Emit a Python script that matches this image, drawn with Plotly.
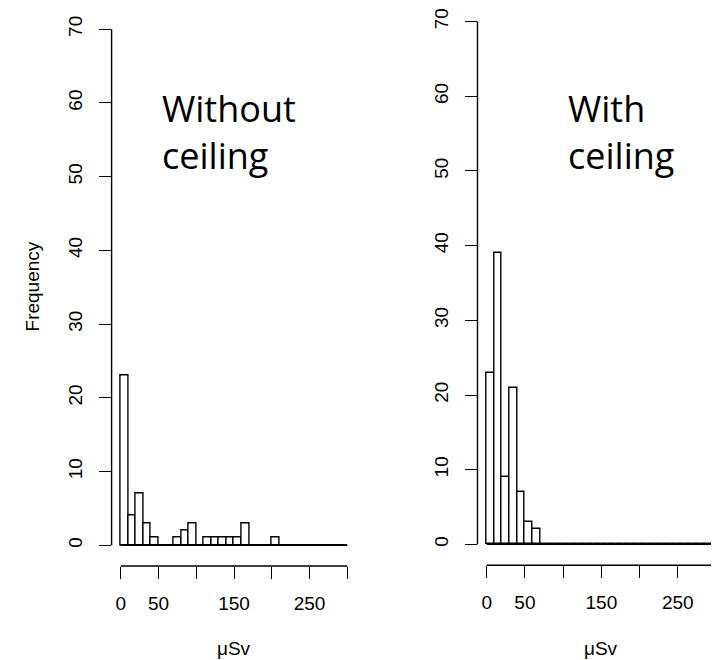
import plotly.graph_objects as go

# ---- data ----
bin_edges = list(range(0, 310, 10))  # 0..300, width 10
counts_without = [23, 4, 7, 3, 1, 0, 0, 1, 2, 3,
                  0, 1, 1, 1, 1, 1, 3, 0, 0, 0,
                  1, 0, 0, 0, 0, 0, 0, 0, 0, 0]
counts_with = [23, 39, 9, 21, 7, 3, 2, 0, 0, 0,
               0, 0, 0, 0, 0, 0, 0, 0, 0, 0,
               0, 0, 0, 0, 0, 0, 0, 0, 0, 0]
x_tickvals = [0, 50, 100, 150, 200, 250, 300]
x_ticktext = ["0", "50", "", "150", "", "250", ""]
y_tickvals = [0, 10, 20, 30, 40, 50, 60, 70]
y_ticktext = ["0", "10", "20", "30", "40", "50", "60", "70"]
panel_labels = ["Without<br>ceiling", "With<br>ceiling"]
x_title = "μSv"
y_title = "Frequency"

PAGE_W, PAGE_H = 719, 660
OFF = 8  # default body margin of the html page
W, H = PAGE_W - OFF, PAGE_H - OFF
FONT = "Liberation Sans, Arial, sans-serif"
LW = 1.4
TFS = 19

centers = [(a + b) / 2 for a, b in zip(bin_edges[:-1], bin_edges[1:])]
widths = [b - a for a, b in zip(bin_edges[:-1], bin_edges[1:])]

fig = go.Figure()
for i, counts in enumerate([counts_without, counts_with]):
    xa = "x" if i == 0 else "x2"
    ya = "y" if i == 0 else "y2"
    fig.add_trace(go.Bar(
        x=centers, y=counts, width=widths,
        marker=dict(color="white", line=dict(color="black", width=LW)),
        xaxis=xa, yaxis=ya, showlegend=False, hoverinfo="x+y",
    ))

def px_x(p):
    return (p - OFF) / W

def px_y(p):
    return 1 - (p - OFF) / H

axis_common = dict(showgrid=False, zeroline=False, showline=False,
                   ticks="outside", ticklen=12, tickwidth=LW, tickcolor="black",
                   ticklabeloverflow="allow",
                   tickfont=dict(family=FONT, size=TFS, color="black"))

fig.update_layout(
    width=W, height=H,
    margin=dict(l=0, r=0, t=0, b=0),
    paper_bgcolor="white", plot_bgcolor="white",
    bargap=0,
    xaxis=dict(domain=[px_x(111.6), px_x(356.4)], range=[-12, 312], anchor="y",
               tickvals=x_tickvals, ticktext=x_ticktext, tickangle=0,
               ticklabelstandoff=8, **axis_common),
    yaxis=dict(domain=[px_y(565.1), px_y(8.5)], range=[-2.8, 72.8 - 6 / 7.443], anchor="x",
               tickvals=y_tickvals, ticktext=y_ticktext, tickangle=-90,
               ticklabelstandoff=9, **axis_common),
    xaxis2=dict(domain=[px_x(477.5), 1.0], range=[-12, 303.9], anchor="y2",
                tickvals=x_tickvals, ticktext=x_ticktext, tickangle=0,
                ticklabelstandoff=8, **axis_common),
    yaxis2=dict(domain=[px_y(564.4), 1.0], range=[-2.8, 72.08 - OFF / 7.537], anchor="x2",
                tickvals=y_tickvals, ticktext=y_ticktext, tickangle=-90,
                ticklabelstandoff=9, **axis_common),
)

shapes = []
annotations = []
for i in range(2):
    xr = "x" if i == 0 else "x2"
    yr = "y" if i == 0 else "y2"
    shapes.append(dict(type="line", xref=xr, yref=yr + " domain",
                       x0=x_tickvals[0], x1=x_tickvals[-1], y0=0, y1=0,
                       line=dict(color="black", width=LW)))
    shapes.append(dict(type="line", xref=xr + " domain", yref=yr,
                       x0=0, x1=0, y0=y_tickvals[0], y1=y_tickvals[-1],
                       line=dict(color="black", width=LW)))
    shapes.append(dict(type="line", xref=xr, yref=yr,
                       x0=bin_edges[0], x1=bin_edges[-1], y0=0, y1=0,
                       line=dict(color="black", width=LW), layer="below"))
    annotations.append(dict(text=x_title, xref=xr, yref="paper",
                            x=(bin_edges[0] + bin_edges[-1]) / 2, y=px_y(648),
                            showarrow=False, xanchor="center", yanchor="middle",
                            font=dict(family=FONT, size=TFS, color="black")))

annotations.append(dict(text=y_title, xref="paper", yref="paper",
                        x=px_x(32), y=px_y(283), textangle=-90,
                        showarrow=False, xanchor="center", yanchor="middle",
                        font=dict(family=FONT, size=TFS, color="black")))

label_pos = [(160, 77), (566, 77)]
for txt, (lx, ly) in zip(panel_labels, label_pos):
    annotations.append(dict(text=txt, xref="paper", yref="paper",
                            x=px_x(lx), y=px_y(ly), align="left",
                            showarrow=False, xanchor="left", yanchor="top",
                            font=dict(family="Open Sans, Noto Sans, sans-serif",
                                      size=36, color="black")))

fig.update_layout(shapes=shapes, annotations=annotations)
fig.write_html("out.html")
